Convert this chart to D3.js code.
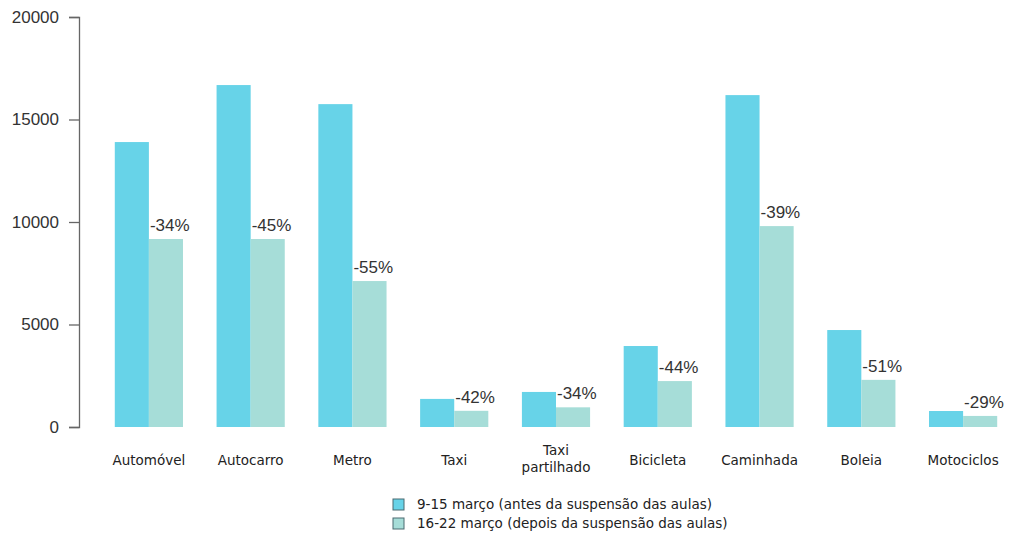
<!DOCTYPE html>
<html>
<head>
<meta charset="utf-8">
<script src="https://cdn.jsdelivr.net/npm/d3@7"></script>
<style>
  body { margin: 0; background: #fff; }
  .yaxis text { font-family: Arial, 'Liberation Sans', Helvetica, sans-serif; font-size: 17px; fill: #333; }
  .yaxis path, .yaxis line { stroke: #666; stroke-width: 1.3; }
  .cat { font-family: 'DejaVu Sans', sans-serif; font-size: 13.5px; fill: #222; }
  .pct { font-family: Arial, 'Liberation Sans', Helvetica, sans-serif; font-size: 17px; fill: #333; }
  .leg { font-family: 'DejaVu Sans', sans-serif; font-size: 13.5px; fill: #222; }
</style>
</head>
<body>
<div id="chart"></div>
<script>
// categorias (modo de transporte)
var categories = ['Automóvel', 'Autocarro', 'Metro', 'Taxi', 'Taxi\npartilhado', 'Bicicleta', 'Caminhada', 'Boleia', 'Motociclos'];
// 9-15 março
var antes = [13900, 16680, 15750, 1370, 1710, 3950, 16190, 4730, 780];
// 16-22 março
var depois = [9170, 9170, 7120, 790, 960, 2240, 9800, 2300, 540];
// variação
var changes = ['-34%', '-45%', '-55%', '-42%', '-34%', '-44%', '-39%', '-51%', '-29%'];
var yTicks = [0, 5000, 10000, 15000, 20000];
var seriesNames = ['9-15 março (antes da suspensão das aulas)', '16-22 março (depois da suspensão das aulas)'];
var colors = ['#67d3e8', '#a6ddd8'];

var width = 1009, height = 539;
var svg = d3.select('#chart').append('svg').attr('width', width).attr('height', height);

// escalas
var x0 = d3.scaleBand().domain(d3.range(categories.length)).range([98, 1014]).paddingInner(0.33).paddingOuter(0.165);
var x1 = d3.scaleBand().domain([0, 1]).range([0, x0.bandwidth()]);
var y = d3.scaleLinear().domain([0, 20000]).range([427, 17]);

// eixo Y
var yAxis = svg.append('g').attr('class', 'yaxis').attr('transform', 'translate(79,0)')
  .call(d3.axisLeft(y).tickValues(yTicks).tickSize(10).tickPadding(10).tickFormat(d3.format('d')));
yAxis.attr('font-family', null).attr('font-size', null);

var groups = svg.selectAll('.grp').data(categories).enter().append('g')
  .attr('class', 'grp')
  .attr('transform', function(d, i) { return 'translate(' + x0(i) + ',0)'; });

groups.append('rect')
  .attr('x', x1(0)).attr('width', x1.bandwidth())
  .attr('y', function(d, i) { return y(antes[i]); })
  .attr('height', function(d, i) { return y(0) - y(antes[i]); })
  .attr('fill', colors[0]);

groups.append('rect')
  .attr('x', x1(1)).attr('width', x1.bandwidth())
  .attr('y', function(d, i) { return y(depois[i]); })
  .attr('height', function(d, i) { return y(0) - y(depois[i]); })
  .attr('fill', colors[1]);

// percentagens
groups.append('text').attr('class', 'pct')
  .attr('x', x1(1) + 1)
  .attr('y', function(d, i) { return y(depois[i]) - 8; })
  .text(function(d, i) { return changes[i]; });

// rótulos das categorias
groups.append('text').attr('class', 'cat')
  .attr('text-anchor', 'middle')
  .attr('x', x0.bandwidth() / 2)
  .each(function(d) {
    var lines = d.split('\n');
    var t = d3.select(this);
    var base = lines.length > 1 ? 455 : 465;
    lines.forEach(function(l, k) {
      t.append('tspan').attr('x', x0.bandwidth() / 2).attr('y', base + k * 17).text(l);
    });
  });

// legenda
var leg = svg.selectAll('.legi').data(seriesNames).enter().append('g')
  .attr('transform', function(d, i) { return 'translate(393,' + (499 + i * 19) + ')'; });
leg.append('rect').attr('width', 11).attr('height', 11)
  .attr('fill', function(d, i) { return colors[i]; })
  .attr('stroke', '#4a6a70').attr('stroke-width', 1);
leg.append('text').attr('class', 'leg').attr('x', 24).attr('y', 10).text(function(d) { return d; });
</script>
</body>
</html>
